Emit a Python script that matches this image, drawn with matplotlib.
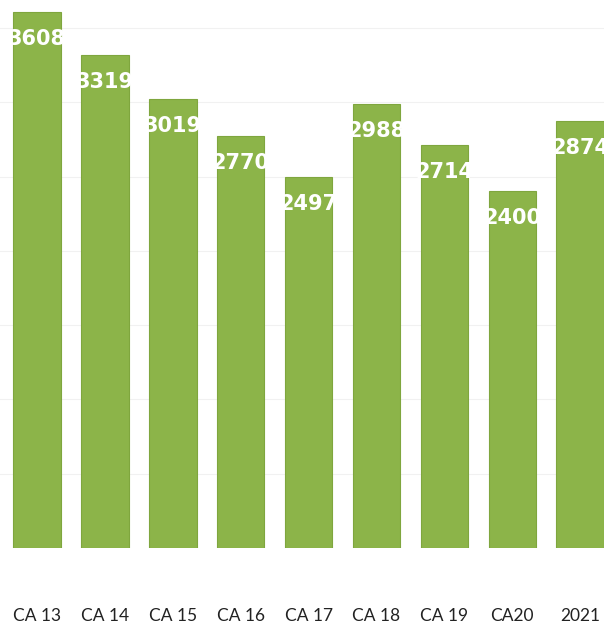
import numpy as np
import matplotlib.pyplot as plt

categories = ["CA 13", "CA 14", "CA 15", "CA 16", "CA 17", "CA 18", "CA 19", "CA20", "2021"]
values = [3608, 3319, 3019, 2770, 2497, 2988, 2714, 2400, 2874]

W, H = 604, 624
fig = plt.figure(figsize=(W / 100, H / 100), dpi=100)

# axes placed so the bars line up with the scan
bottom_px = 548
ax = fig.add_axes([0, (H - bottom_px) / H, 1, bottom_px / H])

pitch = 67.9
c0 = 37.0
x = np.arange(len(categories))
ax.set_xlim(-c0 / pitch, (W - c0) / pitch)
ax.set_ylim(0, bottom_px / 0.1486)

for y in range(500, 4000, 500):
    ax.axhline(y, color="#f1f1f1", lw=0.8, zorder=0)

bars = ax.bar(x, values, width=0.70, color="#8cb449", edgecolor="#7fa63e",
              linewidth=0.8, zorder=2)

for b, v in zip(bars, values):
    ax.annotate(str(v), (b.get_x() + b.get_width() / 2, v),
                xytext=(0, -27), textcoords="offset pixels",
                ha="center", va="center", color="white", fontweight="bold",
                fontsize=15, family="DejaVu Sans", zorder=3)

ax.set_xticks(x)
ax.set_xticklabels(categories, fontsize=12.5, family="Lato", color="#222222")
ax.tick_params(axis="x", length=0, pad=43)
ax.set_yticks([])
for s in ax.spines.values():
    s.set_visible(False)

fig.savefig("out.png", dpi=100)
